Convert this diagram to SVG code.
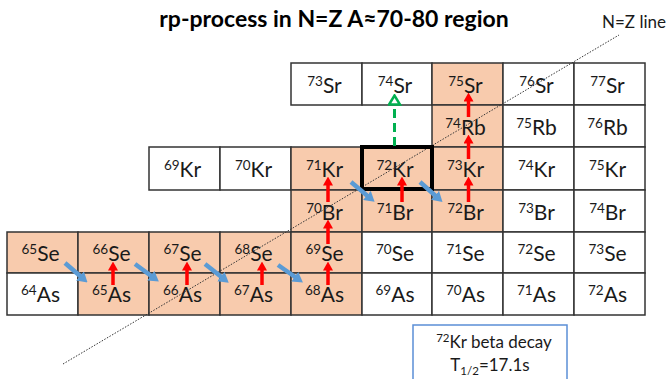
<svg xmlns="http://www.w3.org/2000/svg" width="671" height="379" viewBox="0 0 671 379">
  <style>
    .cell { fill: #ffffff; stroke: #333333; stroke-width: 1.5; }
    .hot { fill: #f8cbad; }
    .lbl { font-family: Lato, "Open Sans", sans-serif; font-size: 21px; fill: #1a1a1a; text-anchor: middle; }
    .sup { font-size: 13.5px; }
    .title { font-family: Lato, "Open Sans", sans-serif; font-size: 23px; font-weight: bold; fill: #000; text-anchor: middle; }
    .note { font-family: Lato, "Open Sans", sans-serif; font-size: 17px; fill: #1a1a1a; }
    .red { stroke: #ff0000; stroke-width: 3.5; fill: none; marker-end: url(#head-red); }
    .blue { stroke: #5b9bd5; stroke-width: 4.5; fill: none; marker-end: url(#head-blue); }
    .green { stroke: #00b050; stroke-width: 3; fill: none; stroke-dasharray: 9 5; marker-end: url(#head-green); }
    .nz { stroke: #333333; stroke-width: 1; stroke-dasharray: 1.5 1.5; fill: none; }
  </style>
  <defs>
    <marker id="head-red" markerUnits="userSpaceOnUse" viewBox="0 0 9 10" markerWidth="9" markerHeight="10" refX="4" refY="5" orient="auto">
      <path d="M0,0 L9,5 L0,10 z" fill="#ff0000"/>
    </marker>
    <marker id="head-blue" markerUnits="userSpaceOnUse" viewBox="0 0 10 12" markerWidth="10" markerHeight="12" refX="4" refY="6" orient="auto">
      <path d="M0,0 L10,6 L0,12 z" fill="#5b9bd5"/>
    </marker>
    <marker id="head-green" markerUnits="userSpaceOnUse" viewBox="0 0 12 14" markerWidth="12" markerHeight="14" refX="3" refY="7" orient="auto">
      <path d="M1.5,1.5 L10.5,7 L1.5,12.5 z" fill="#ffffff" stroke="#00b050" stroke-width="2.5" stroke-linejoin="miter"/>
    </marker>
  </defs>

  <rect width="671" height="379" fill="#ffffff"/>

  <text class="title" x="334" y="27">rp-process in N=Z A≈70-80 region</text>

  <!-- Sr row -->
  <g id="sr73"><rect class="cell" x="291" y="63" width="71" height="42"/><text class="lbl" x="324.5" y="92.5"><tspan class="sup" dy="-7">73</tspan><tspan dy="7">Sr</tspan></text></g>
  <g id="sr74"><rect class="cell" x="362" y="63" width="70" height="42"/><text class="lbl" x="395" y="92.5"><tspan class="sup" dy="-7">74</tspan><tspan dy="7">Sr</tspan></text></g>
  <g id="sr75"><rect class="cell hot" x="432" y="63" width="71" height="42"/><text class="lbl" x="465.5" y="92.5"><tspan class="sup" dy="-7">75</tspan><tspan dy="7">Sr</tspan></text></g>
  <g id="sr76"><rect class="cell" x="503" y="63" width="71" height="42"/><text class="lbl" x="536.5" y="92.5"><tspan class="sup" dy="-7">76</tspan><tspan dy="7">Sr</tspan></text></g>
  <g id="sr77"><rect class="cell" x="574" y="63" width="71" height="42"/><text class="lbl" x="607.5" y="92.5"><tspan class="sup" dy="-7">77</tspan><tspan dy="7">Sr</tspan></text></g>

  <!-- Rb row -->
  <g id="rb74"><rect class="cell hot" x="432" y="105" width="71" height="42"/><text class="lbl" x="465.5" y="134.5"><tspan class="sup" dy="-7">74</tspan><tspan dy="7">Rb</tspan></text></g>
  <g id="rb75"><rect class="cell" x="503" y="105" width="71" height="42"/><text class="lbl" x="536.5" y="134.5"><tspan class="sup" dy="-7">75</tspan><tspan dy="7">Rb</tspan></text></g>
  <g id="rb76"><rect class="cell" x="574" y="105" width="71" height="42"/><text class="lbl" x="607.5" y="134.5"><tspan class="sup" dy="-7">76</tspan><tspan dy="7">Rb</tspan></text></g>

  <!-- Kr row -->
  <g id="kr69"><rect class="cell" x="149" y="147" width="71" height="43"/><text class="lbl" x="182.5" y="176.5"><tspan class="sup" dy="-7">69</tspan><tspan dy="7">Kr</tspan></text></g>
  <g id="kr70"><rect class="cell" x="220" y="147" width="71" height="43"/><text class="lbl" x="253.5" y="176.5"><tspan class="sup" dy="-7">70</tspan><tspan dy="7">Kr</tspan></text></g>
  <g id="kr71"><rect class="cell hot" x="291" y="147" width="71" height="43"/><text class="lbl" x="324.5" y="176.5"><tspan class="sup" dy="-7">71</tspan><tspan dy="7">Kr</tspan></text></g>
  <g id="kr72"><rect class="cell hot" x="362" y="147" width="70" height="43"/><text class="lbl" x="395" y="176.5"><tspan class="sup" dy="-7">72</tspan><tspan dy="7">Kr</tspan></text></g>
  <g id="kr73"><rect class="cell hot" x="432" y="147" width="71" height="43"/><text class="lbl" x="465.5" y="176.5"><tspan class="sup" dy="-7">73</tspan><tspan dy="7">Kr</tspan></text></g>
  <g id="kr74"><rect class="cell" x="503" y="147" width="71" height="43"/><text class="lbl" x="536.5" y="176.5"><tspan class="sup" dy="-7">74</tspan><tspan dy="7">Kr</tspan></text></g>
  <g id="kr75"><rect class="cell" x="574" y="147" width="71" height="43"/><text class="lbl" x="607.5" y="176.5"><tspan class="sup" dy="-7">75</tspan><tspan dy="7">Kr</tspan></text></g>

  <!-- Br row -->
  <g id="br70"><rect class="cell hot" x="291" y="190" width="71" height="42"/><text class="lbl" x="324.5" y="219.5"><tspan class="sup" dy="-7">70</tspan><tspan dy="7">Br</tspan></text></g>
  <g id="br71"><rect class="cell hot" x="362" y="190" width="70" height="42"/><text class="lbl" x="395" y="219.5"><tspan class="sup" dy="-7">71</tspan><tspan dy="7">Br</tspan></text></g>
  <g id="br72"><rect class="cell hot" x="432" y="190" width="71" height="42"/><text class="lbl" x="465.5" y="219.5"><tspan class="sup" dy="-7">72</tspan><tspan dy="7">Br</tspan></text></g>
  <g id="br73"><rect class="cell" x="503" y="190" width="71" height="42"/><text class="lbl" x="536.5" y="219.5"><tspan class="sup" dy="-7">73</tspan><tspan dy="7">Br</tspan></text></g>
  <g id="br74"><rect class="cell" x="574" y="190" width="71" height="42"/><text class="lbl" x="607.5" y="219.5"><tspan class="sup" dy="-7">74</tspan><tspan dy="7">Br</tspan></text></g>

  <!-- Se row -->
  <g id="se65"><rect class="cell hot" x="7" y="232" width="71" height="41"/><text class="lbl" x="40.5" y="261"><tspan class="sup" dy="-7">65</tspan><tspan dy="7">Se</tspan></text></g>
  <g id="se66"><rect class="cell hot" x="78" y="232" width="71" height="41"/><text class="lbl" x="111.5" y="261"><tspan class="sup" dy="-7">66</tspan><tspan dy="7">Se</tspan></text></g>
  <g id="se67"><rect class="cell hot" x="149" y="232" width="71" height="41"/><text class="lbl" x="182.5" y="261"><tspan class="sup" dy="-7">67</tspan><tspan dy="7">Se</tspan></text></g>
  <g id="se68"><rect class="cell hot" x="220" y="232" width="71" height="41"/><text class="lbl" x="253.5" y="261"><tspan class="sup" dy="-7">68</tspan><tspan dy="7">Se</tspan></text></g>
  <g id="se69"><rect class="cell hot" x="291" y="232" width="71" height="41"/><text class="lbl" x="324.5" y="261"><tspan class="sup" dy="-7">69</tspan><tspan dy="7">Se</tspan></text></g>
  <g id="se70"><rect class="cell" x="362" y="232" width="70" height="41"/><text class="lbl" x="395" y="261"><tspan class="sup" dy="-7">70</tspan><tspan dy="7">Se</tspan></text></g>
  <g id="se71"><rect class="cell" x="432" y="232" width="71" height="41"/><text class="lbl" x="465.5" y="261"><tspan class="sup" dy="-7">71</tspan><tspan dy="7">Se</tspan></text></g>
  <g id="se72"><rect class="cell" x="503" y="232" width="71" height="41"/><text class="lbl" x="536.5" y="261"><tspan class="sup" dy="-7">72</tspan><tspan dy="7">Se</tspan></text></g>
  <g id="se73"><rect class="cell" x="574" y="232" width="71" height="41"/><text class="lbl" x="607.5" y="261"><tspan class="sup" dy="-7">73</tspan><tspan dy="7">Se</tspan></text></g>

  <!-- As row -->
  <g id="as64"><rect class="cell" x="7" y="273" width="71" height="42"/><text class="lbl" x="40.5" y="302"><tspan class="sup" dy="-7">64</tspan><tspan dy="7">As</tspan></text></g>
  <g id="as65"><rect class="cell hot" x="78" y="273" width="71" height="42"/><text class="lbl" x="111.5" y="302"><tspan class="sup" dy="-7">65</tspan><tspan dy="7">As</tspan></text></g>
  <g id="as66"><rect class="cell hot" x="149" y="273" width="71" height="42"/><text class="lbl" x="182.5" y="302"><tspan class="sup" dy="-7">66</tspan><tspan dy="7">As</tspan></text></g>
  <g id="as67"><rect class="cell hot" x="220" y="273" width="71" height="42"/><text class="lbl" x="253.5" y="302"><tspan class="sup" dy="-7">67</tspan><tspan dy="7">As</tspan></text></g>
  <g id="as68"><rect class="cell hot" x="291" y="273" width="71" height="42"/><text class="lbl" x="324.5" y="302"><tspan class="sup" dy="-7">68</tspan><tspan dy="7">As</tspan></text></g>
  <g id="as69"><rect class="cell" x="362" y="273" width="70" height="42"/><text class="lbl" x="395" y="302"><tspan class="sup" dy="-7">69</tspan><tspan dy="7">As</tspan></text></g>
  <g id="as70"><rect class="cell" x="432" y="273" width="71" height="42"/><text class="lbl" x="465.5" y="302"><tspan class="sup" dy="-7">70</tspan><tspan dy="7">As</tspan></text></g>
  <g id="as71"><rect class="cell" x="503" y="273" width="71" height="42"/><text class="lbl" x="536.5" y="302"><tspan class="sup" dy="-7">71</tspan><tspan dy="7">As</tspan></text></g>
  <g id="as72"><rect class="cell" x="574" y="273" width="71" height="42"/><text class="lbl" x="607.5" y="302"><tspan class="sup" dy="-7">72</tspan><tspan dy="7">As</tspan></text></g>

  <!-- N=Z line -->
  <g id="nz-line">
    <line class="nz" x1="63" y1="364" x2="619" y2="35"/>
    <text class="note" x="602" y="28">N=Z line</text>
  </g>

  <!-- 72Kr waiting point -->
  <rect id="kr72-frame" x="362" y="147" width="70" height="42" fill="none" stroke="#000" stroke-width="4"/>

  <g id="connectors">
    <!-- proton captures -->
    <line class="red" x1="113" y1="285" x2="113" y2="266.5"/>
    <line class="red" x1="187" y1="285" x2="187" y2="266.5"/>
    <line class="red" x1="262" y1="285" x2="262" y2="266.5"/>
    <line class="red" x1="328" y1="285" x2="328" y2="266.5"/>
    <line class="red" x1="328" y1="244" x2="328" y2="224.5"/>
    <line class="red" x1="328" y1="202" x2="328" y2="181.5"/>
    <line class="red" x1="402" y1="202" x2="402" y2="181.5"/>
    <line class="red" x1="468.5" y1="202" x2="468.5" y2="181.5"/>
    <line class="red" x1="468.5" y1="159" x2="468.5" y2="139.5"/>
    <line class="red" x1="468.5" y1="117" x2="468.5" y2="97.5"/>
    <!-- beta decays -->
    <line class="blue" x1="65" y1="263" x2="83" y2="278.5"/>
    <line class="blue" x1="135" y1="264" x2="154" y2="278"/>
    <line class="blue" x1="205" y1="264" x2="224" y2="279"/>
    <line class="blue" x1="278" y1="265" x2="298" y2="279"/>
    <line class="blue" x1="351" y1="182" x2="370" y2="198"/>
    <line class="blue" x1="420" y1="182" x2="438" y2="198"/>
    <!-- two-proton capture -->
    <line class="green" x1="394.5" y1="146" x2="394.5" y2="103"/>
  </g>

  <g id="decay-note">
    <rect x="413" y="325" width="154" height="62" fill="#ffffff" stroke="#5b8fd6" stroke-width="1.5"/>
    <text class="note" x="494" y="348" text-anchor="middle"><tspan font-size="11.5" dy="-6">72</tspan><tspan dy="6">Kr beta decay</tspan></text>
    <text class="note" x="490" y="371" text-anchor="middle">T<tspan font-size="11.5" dy="4">1/2</tspan><tspan dy="-4">=17.1s</tspan></text>
  </g>
</svg>
